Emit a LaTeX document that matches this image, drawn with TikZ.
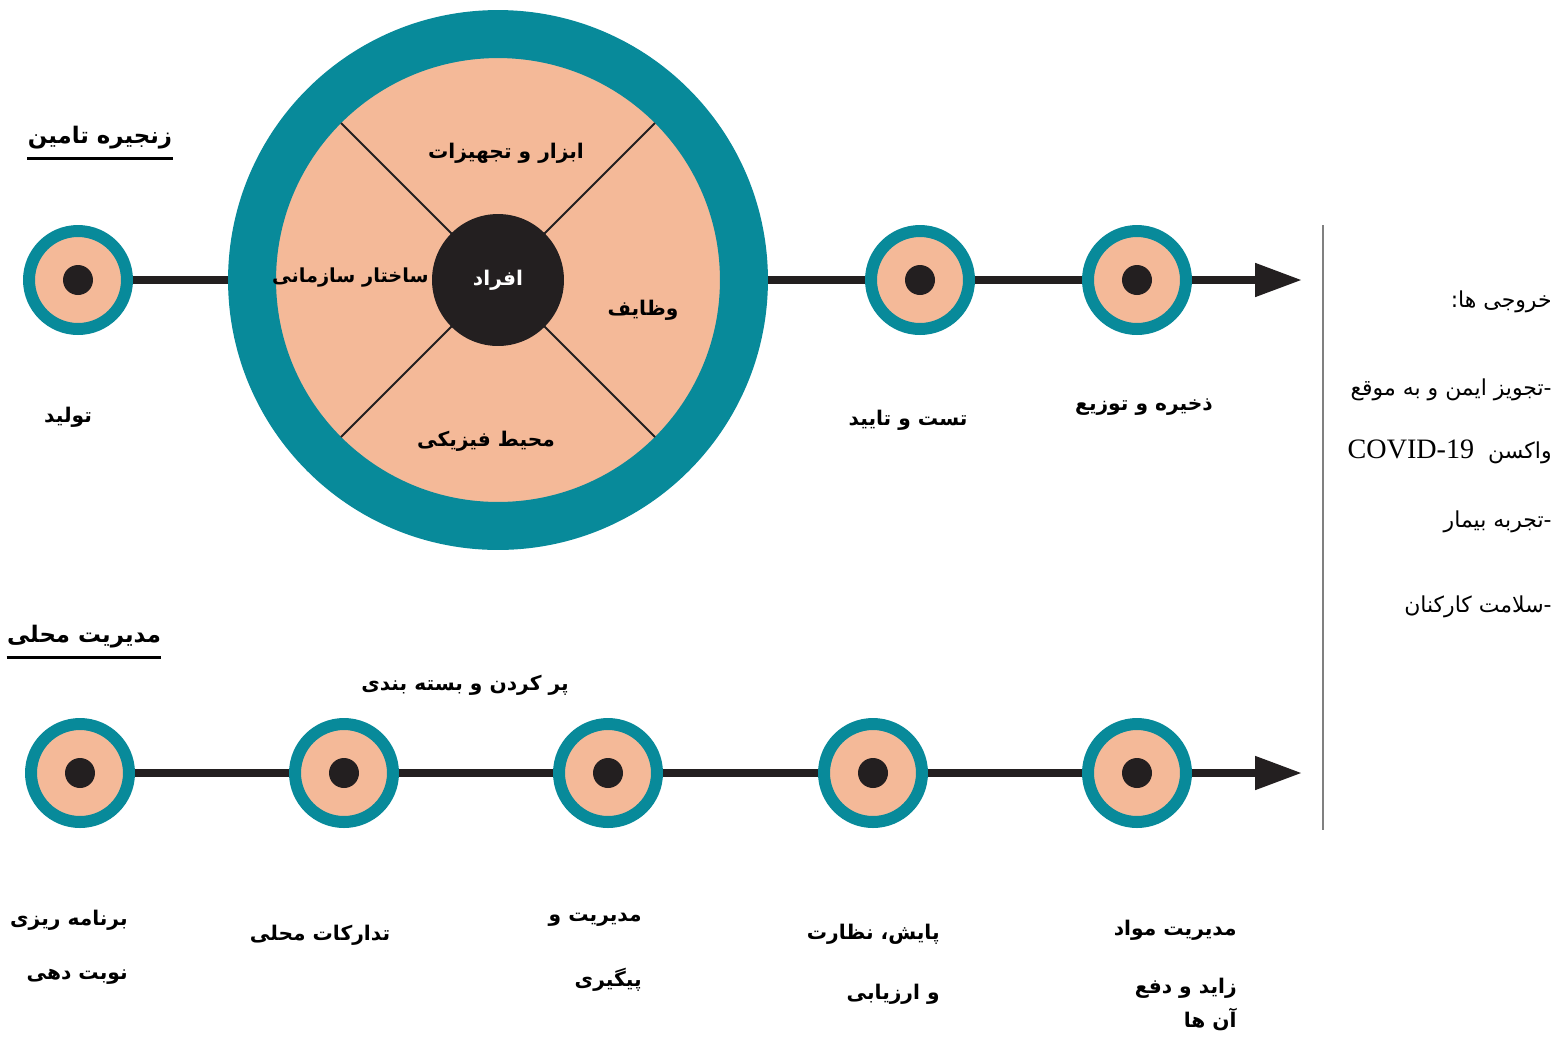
\documentclass[tikz,border=0pt]{standalone}
\usepackage{fontspec}
\usepackage{tikz}
\usetikzlibrary{arrows.meta}
\TeXXeTstate=1
\newfontfamily\fafont[Script=Arabic]{DejaVu Sans}
\newfontfamily\latinfont{Liberation Serif}
\definecolor{ringteal}{RGB}{8,138,154}
\definecolor{peach}{RGB}{244,185,152}
\definecolor{dotblack}{RGB}{35,31,32}

\tikzset{
  rtl/.style={execute at begin node=\beginR, execute at end node=\endR},
  lbl/.style={rtl,font=\fafont\bfseries\fontsize{11.5}{14}\selectfont,inner sep=0pt},
  headlbl/.style={rtl,font=\fafont\bfseries\fontsize{13}{15}\selectfont,inner sep=0pt},
  outlbl/.style={rtl,font=\fafont\fontsize{12.5}{14}\selectfont,inner sep=0pt,anchor=east},
  stop/.style={circle,fill=peach,draw=ringteal,line width=0.24cm,minimum size=1.96cm,
    inner sep=0pt,outer sep=0.12cm,
    path picture={\fill[dotblack] (path picture bounding box.center) circle (0.3cm);}},
  link/.style={dotblack,line width=0.16cm},
  spoke/.style={dotblack,line width=0.04cm},
  tip/.style={-{Triangle[length=0.94cm,width=0.64cm]}},
}

\begin{document}
\begin{tikzpicture}[x=0.02cm,y=-0.02cm]
\useasboundingbox (0,0) rectangle (1556,1036);

% supply chain row
\node[circle,fill=peach,draw=ringteal,line width=0.96cm,minimum size=9.84cm,
  inner sep=0pt,outer sep=0.48cm] (wheel) at (498,280) {};
\foreach \x/\y in {341/123,655/123,341/437,655/437}
  \draw[spoke] (498,280) -- (\x,\y);
\node[circle,fill=dotblack,minimum size=2.64cm,lbl,text=white] (core) at (498,280) {افراد};
\node[lbl] (tools) at (506,153) {ابزار و تجهیزات};
\node[lbl,anchor=east,font=\fafont\bfseries\fontsize{11}{13}\selectfont] (org) at (429,278) {ساختار سازمانی};
\node[lbl] (duty) at (643,310) {وظایف};
\node[lbl] (env) at (486,441) {محیط فیزیکی};

\node[stop] (make) at (78,280) {};
\node[stop] (test) at (920,280) {};
\node[stop] (store) at (1137,280) {};
\coordinate (toptip) at (1302,280);
\draw[link] (make) -- (wheel);
\draw[link] (wheel) -- (test);
\draw[link] (test) -- (store);
\draw[link,tip] (store) -- (toptip);

\node[lbl] (makelbl) at (68,417) {تولید};
\node[lbl] (testlbl) at (908,420) {تست و تایید};
\node[lbl] (storelbl) at (1144,407) {ذخیره و توزیع};

% headings
\node[headlbl] (chain) at (100,138) {زنجیره تامین};
\draw[line width=0.05cm] ([yshift=-5pt]chain.south west) -- ([yshift=-5pt]chain.south east);
\node[headlbl] (local) at (84,637) {مدیریت محلی};
\draw[line width=0.05cm] ([yshift=-5pt]local.south west) -- ([yshift=-5pt]local.south east);

% local management row
\foreach \n/\x in {plan/80,supply/344,track/608,monitor/873,waste/1137}
  \node[stop] (\n) at (\x,773) {};
\coordinate (bottip) at (1302,773);
\draw[link] (plan) -- (supply);
\draw[link] (supply) -- (track);
\draw[link] (track) -- (monitor);
\draw[link] (monitor) -- (waste);
\draw[link,tip] (waste) -- (bottip);

\node[lbl] (fill) at (465,685) {پر کردن و بسته بندی};
\node[lbl,anchor=east] (plan1) at (128,920) {برنامه ریزی};
\node[lbl,anchor=east] (plan2) at (128,977) {نوبت دهی};
\node[lbl] (supplylbl) at (320,935) {تدارکات محلی};
\node[lbl,anchor=east] (track1) at (642,920) {مدیریت و};
\node[lbl,anchor=east] (track2) at (642,980) {پیگیری};
\node[lbl,anchor=east] (mon1) at (940,934) {پایش، نظارت};
\node[lbl,anchor=east] (mon2) at (940,994) {و ارزیابی};
\node[lbl,anchor=east] (waste1) at (1237,930) {مدیریت مواد};
\node[lbl,anchor=east] (waste2) at (1237,988) {زاید و دفع};
\node[lbl,anchor=east] (waste3) at (1237,1019) {آن ها};

% outputs
\draw[black!50,line width=0.04cm] (1323,225) -- (1323,830);
\node[outlbl] (out0) at (1552,302) {خروجی ها:};
\node[outlbl] (out1) at (1552,390) {-تجویز ایمن و به موقع};
\node[outlbl] (out2) at (1552,452) {واکسن\ \ \beginL{\latinfont\fontsize{16}{18}\selectfont COVID-19}\endL};
\node[outlbl] (out3) at (1552,522) {-تجربه بیمار};
\node[outlbl] (out4) at (1552,607) {-سلامت کارکنان};
\end{tikzpicture}
\end{document}
